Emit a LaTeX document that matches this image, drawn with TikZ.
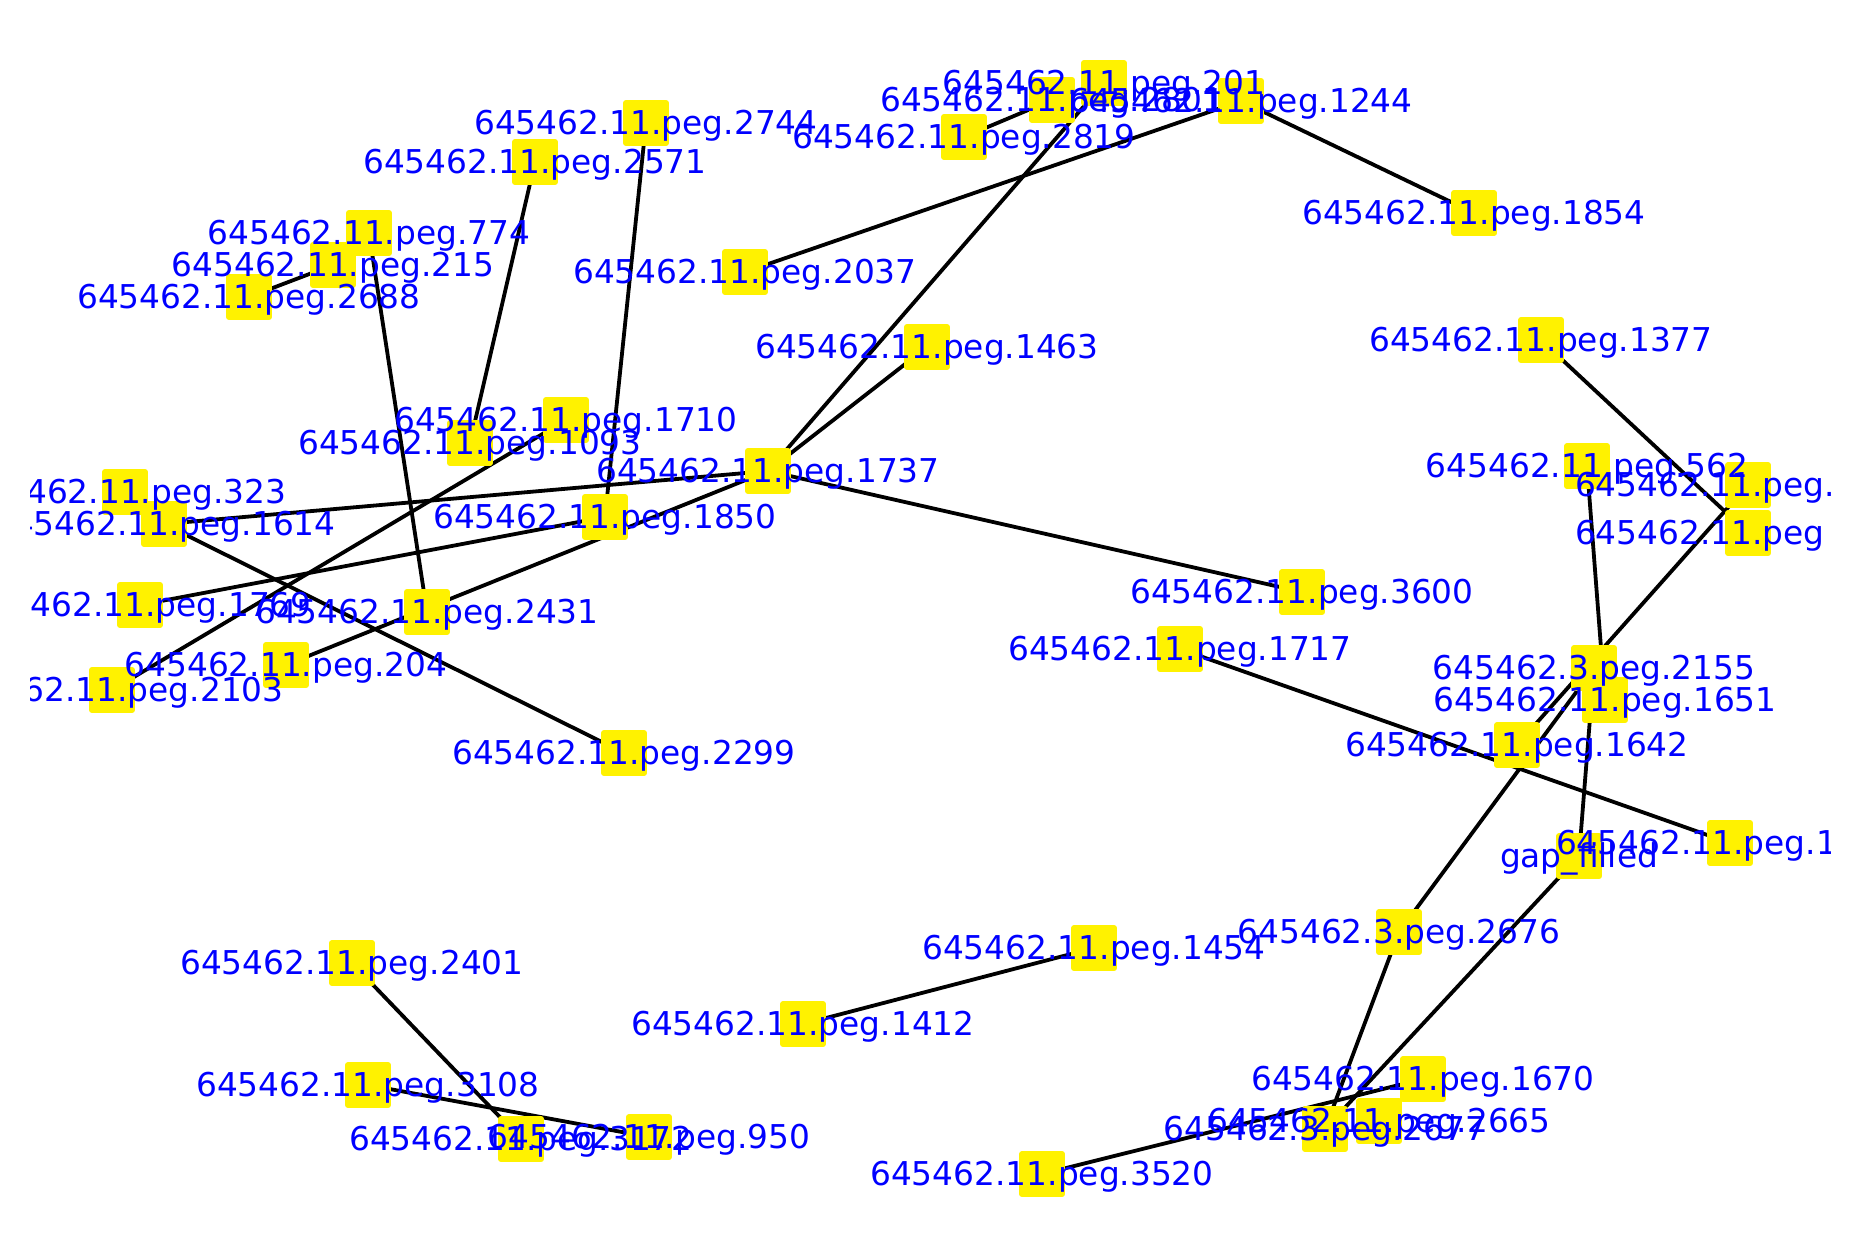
\documentclass[tikz,border=0pt]{standalone}
\usepackage{fontspec}
\setmainfont{DejaVu Sans}
\pgfdeclarelayer{edges}
\pgfsetlayers{edges,main}
\begin{document}
\begin{tikzpicture}[x=1pt,y=-1pt,
  vertex/.style={fill=yellow, minimum size=45.7pt, inner sep=0pt, rounded corners=2.5pt},
  link/.style={line width=3.8pt, black},
  tag/.style={anchor=base, inner sep=0pt, outer sep=0pt, text=blue,
              font=\fontsize{32.8}{36}\selectfont},
  cuttag/.style={tag, anchor=base west}]
\useasboundingbox (0,0) rectangle (1859,1259);
\begin{scope}
\clip (30,0) rectangle (1830,1259);

% node squares: name / x / y
\foreach \n/\x/\y in {
  n201/1104/83, nA/1052/100, n1244/1241/101, n2819/964/137, n1854/1474/213,
  n2744/646/123, n2571/535/162, n774/369/233, n215/333/265, n2688/249/297,
  n2037/745/272, n1463/927/347, n1377/1541/340, n1710/566/420, n1093/470/443,
  n1737/768/471, n1850/605/517, n323/125/492, n1614/164/524, n1769/140/605,
  n2431/427/612, n204/286/665, n2103/112/690, n2299/624/753, n3600/1302/592,
  n1717/1180/649, n562/1587/466, nRa/1748/485, nRb/1748/533, n2155/1594/668,
  n1651/1605/700, n1642/1517/745, nRc/1730/843, gap/1579/856, n2676/1399/932,
  n1454/1094/948, n1412/803/1024, n2401/352/963, n3108/368/1085, n3172/521/1139,
  n950/649/1137, n3520/1042/1174, n1670/1423/1079, n2665/1379/1121, n2677/1325/1129}
  \node[vertex] (\n) at (\x,\y) {};

% connectors, kept underneath the squares
\begin{pgfonlayer}{edges}
\foreach \a/\b in {
  nA/n2819, n201/n1737, n2037/n1244, n1244/n1854, n2571/n1093, n2744/n1850,
  n2688/n215, n774/n2431, n2103/n1710, n1614/n1737, n1614/n2299, n1769/n1850,
  n204/n1737, n1737/n1463, n1737/n3600, n1377/nRb, nRa/n1642, n562/n1651,
  n2676/n2155, n2155/gap, n1717/nRc, n1454/n1412, n2401/n3172, n3108/n950,
  n3520/n1670, n2676/n2677, gap/n2677}
  \draw[link] (\a.center) -- (\b.center);
\end{pgfonlayer}

% labels, centred on their squares
\foreach \n/\t in {
  n201/645462.11.peg.201, nA/645462.11.peg.2801, n1244/645462.11.peg.1244,
  n2819/645462.11.peg.2819, n1854/645462.11.peg.1854, n2744/645462.11.peg.2744,
  n2571/645462.11.peg.2571, n774/645462.11.peg.774, n215/645462.11.peg.215,
  n2688/645462.11.peg.2688, n2037/645462.11.peg.2037, n1463/645462.11.peg.1463,
  n1377/645462.11.peg.1377, n1710/645462.11.peg.1710, n1093/645462.11.peg.1093,
  n1737/645462.11.peg.1737, n1850/645462.11.peg.1850, n323/645462.11.peg.323,
  n1614/645462.11.peg.1614, n1769/645462.11.peg.1769, n2431/645462.11.peg.2431,
  n204/645462.11.peg.204, n2103/645462.11.peg.2103, n2299/645462.11.peg.2299,
  n3600/645462.11.peg.3600, n1717/645462.11.peg.1717, n562/645462.11.peg.562,
  n2155/645462.3.peg.2155, n1651/645462.11.peg.1651, n1642/645462.11.peg.1642,
  gap/gap\_filled, n2676/645462.3.peg.2676, n1454/645462.11.peg.1454,
  n1412/645462.11.peg.1412, n2401/645462.11.peg.2401, n3108/645462.11.peg.3108,
  n3172/645462.11.peg.3172, n950/645462.11.peg.950, n3520/645462.11.peg.3520,
  n1670/645462.11.peg.1670, n2665/645462.11.peg.2665, n2677/645462.3.peg.2677}
  \node[tag] (t\n) at ([yshift=-11pt]\n.center) {\t};

% labels running off the right edge
\node[cuttag] (tnRa) at ([xshift=-173pt,yshift=-11pt]nRa.center) {645462.11.peg.};
\node[cuttag] (tnRb) at ([xshift=-173pt,yshift=-11pt]nRb.center) {645462.11.peg};
\node[cuttag] (tnRc) at ([xshift=-174pt,yshift=-11pt]nRc.center) {645462.11.peg.1};
\end{scope}
\end{tikzpicture}
\end{document}
